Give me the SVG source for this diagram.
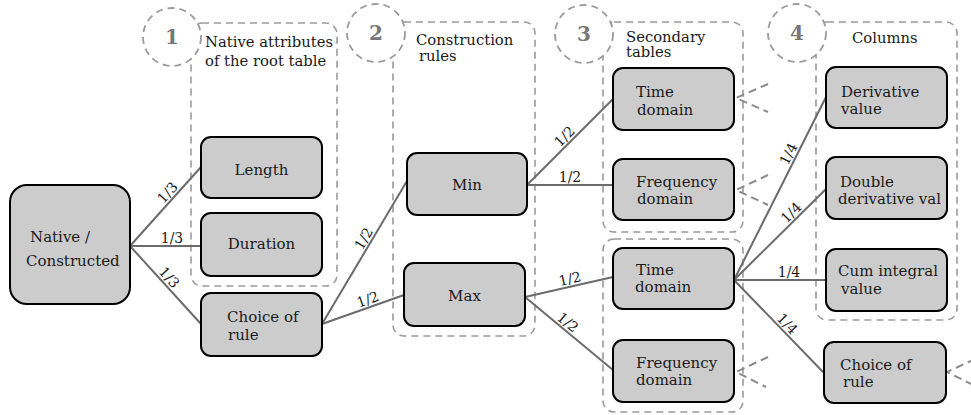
<svg xmlns="http://www.w3.org/2000/svg" width="971" height="415" viewBox="0 0 971 415">
<style>
text{font-family:"DejaVu Serif","Liberation Serif",serif;fill:#1a1a1a}
.node{fill:#cccccc;stroke:#000;stroke-width:2}
.t{font-size:15px}
.grp{fill:none;stroke:#9a9a9a;stroke-width:1.6;stroke-dasharray:7,5}
.circ{fill:#fff;stroke:#9a9a9a;stroke-width:1.8;stroke-dasharray:7,5}
.num{font-size:20px;font-weight:bold;fill:#777;text-anchor:middle}
.gl{font-size:14.8px}
.e{stroke:#6b6b6b;stroke-width:2;fill:none}
.lb{font-size:14px;text-anchor:middle}
.da{stroke:#8a8a8a;stroke-width:2;fill:none;stroke-dasharray:8,5}
</style>

<g id="groups">
  <rect class="grp" x="191" y="23" width="146" height="263" rx="11"/>
  <rect class="grp" x="393" y="22" width="142" height="314" rx="11"/>
  <rect class="grp" x="603" y="22" width="140" height="210" rx="11"/>
  <rect class="grp" x="603" y="239" width="140" height="173" rx="11"/>
  <rect class="grp" x="816" y="22" width="141" height="298" rx="11"/>
  <circle class="circ" cx="172" cy="37" r="29"/>
  <text class="num" x="172" y="44">1</text>
  <circle class="circ" cx="376" cy="33" r="29"/>
  <text class="num" x="376" y="40">2</text>
  <circle class="circ" cx="584" cy="34" r="29"/>
  <text class="num" x="584" y="41">3</text>
  <circle class="circ" cx="797" cy="33" r="29"/>
  <text class="num" x="797" y="40">4</text>
  <text class="gl" x="205" y="47">Native attributes</text>
  <text class="gl" x="205" y="66">of the root table</text>
  <text class="gl" x="416" y="45">Construction</text>
  <text class="gl" x="419" y="61">rules</text>
  <text class="gl" x="626" y="42">Secondary</text>
  <text class="gl" x="626" y="57">tables</text>
  <text class="gl" x="852" y="43">Columns</text>
</g>

<g id="connectors">
  <line class="e" x1="130" y1="246" x2="201" y2="167"/>
  <line class="e" x1="130" y1="246" x2="201" y2="246"/>
  <line class="e" x1="130" y1="246" x2="201" y2="324"/>
  <line class="e" x1="322" y1="324" x2="407" y2="181"/>
  <line class="e" x1="322" y1="324" x2="404" y2="295"/>
  <line class="e" x1="527" y1="185" x2="613" y2="99"/>
  <line class="e" x1="527" y1="185" x2="613" y2="185"/>
  <line class="e" x1="525" y1="297" x2="613" y2="277"/>
  <line class="e" x1="525" y1="297" x2="613" y2="370"/>
  <line class="e" x1="734" y1="280" x2="826" y2="97"/>
  <line class="e" x1="734" y1="280" x2="826" y2="189"/>
  <line class="e" x1="734" y1="280" x2="826" y2="280"/>
  <line class="e" x1="734" y1="280" x2="824" y2="373"/>

  <text class="lb" transform="translate(173.3,197.8) rotate(-48)" y="-3">1/3</text>
  <text class="lb" transform="translate(172,246)" y="-3">1/3</text>
  <text class="lb" transform="translate(163.4,282.7) rotate(47.7)" y="-3">1/3</text>
  <text class="lb" transform="translate(370.5,242.5) rotate(-59.3)" y="-3">1/2</text>
  <text class="lb" transform="translate(370.4,306.9) rotate(-19.5)" y="-3">1/2</text>
  <text class="lb" transform="translate(570,142) rotate(-45)" y="-3">1/2</text>
  <text class="lb" transform="translate(570,185)" y="-3">1/2</text>
  <text class="lb" transform="translate(571.6,286.4) rotate(-12.8)" y="-3">1/2</text>
  <text class="lb" transform="translate(562.8,328.4) rotate(39.7)" y="-3">1/2</text>
  <text class="lb" transform="translate(795.6,157.4) rotate(-63.3)" y="-3">1/4</text>
  <text class="lb" transform="translate(796.6,218.1) rotate(-44.7)" y="-3">1/4</text>
  <text class="lb" transform="translate(789,280)" y="-3">1/4</text>
  <text class="lb" transform="translate(781.7,329.3) rotate(45.9)" y="-3">1/4</text>

  <polyline class="da" points="768,84 736,98 768,112"/>
  <polyline class="da" points="768,175 736,190 768,205"/>
  <polyline class="da" points="768,357 736,372 766,387"/>
  <polyline class="da" points="975,359 947,372 975,386"/>
</g>

<g id="n-root">
  <rect class="node" x="10" y="185" width="120" height="119" rx="17"/>
  <text class="t" x="30" y="242">Native /</text>
  <text class="t" x="26" y="266">Constructed</text>
</g>
<g id="n-length">
  <rect class="node" x="201" y="137" width="121" height="61" rx="10"/>
  <text class="t" x="261.5" y="175" text-anchor="middle">Length</text>
</g>
<g id="n-duration">
  <rect class="node" x="201" y="213" width="121" height="63" rx="10"/>
  <text class="t" x="261.5" y="249" text-anchor="middle">Duration</text>
</g>
<g id="n-choice1">
  <rect class="node" x="201" y="293" width="121" height="63" rx="10"/>
  <text class="t" x="227" y="322">Choice of</text>
  <text class="t" x="228" y="340">rule</text>
</g>
<g id="n-min">
  <rect class="node" x="407" y="153" width="120" height="62" rx="10"/>
  <text class="t" x="467" y="190" text-anchor="middle">Min</text>
</g>
<g id="n-max">
  <rect class="node" x="404" y="263" width="121" height="63" rx="10"/>
  <text class="t" x="464.5" y="301" text-anchor="middle">Max</text>
</g>
<g id="n-time1">
  <rect class="node" x="613" y="68" width="121" height="62" rx="10"/>
  <text class="t" x="636" y="97">Time</text>
  <text class="t" x="637" y="115">domain</text>
</g>
<g id="n-freq1">
  <rect class="node" x="613" y="159" width="121" height="61" rx="10"/>
  <text class="t" x="636" y="187">Frequency</text>
  <text class="t" x="637" y="204">domain</text>
</g>
<g id="n-time2">
  <rect class="node" x="613" y="248" width="121" height="61" rx="10"/>
  <text class="t" x="636" y="275">Time</text>
  <text class="t" x="635" y="292">domain</text>
</g>
<g id="n-freq2">
  <rect class="node" x="613" y="340" width="121" height="62" rx="10"/>
  <text class="t" x="636" y="368">Frequency</text>
  <text class="t" x="636" y="385">domain</text>
</g>
<g id="n-deriv">
  <rect class="node" x="826" y="67" width="121" height="61" rx="10"/>
  <text class="t" x="841" y="97">Derivative</text>
  <text class="t" x="841" y="114">value</text>
</g>
<g id="n-double">
  <rect class="node" x="826" y="157" width="121" height="62" rx="10"/>
  <text class="t" x="840" y="187">Double</text>
  <text class="t" x="838" y="204">derivative val</text>
</g>
<g id="n-cum">
  <rect class="node" x="826" y="249" width="121" height="62" rx="10"/>
  <text class="t" x="838" y="276">Cum integral</text>
  <text class="t" x="841" y="294">value</text>
</g>
<g id="n-choice2">
  <rect class="node" x="824" y="342" width="122" height="61" rx="10"/>
  <text class="t" x="840" y="370">Choice of</text>
  <text class="t" x="843" y="387">rule</text>
</g>
</svg>
